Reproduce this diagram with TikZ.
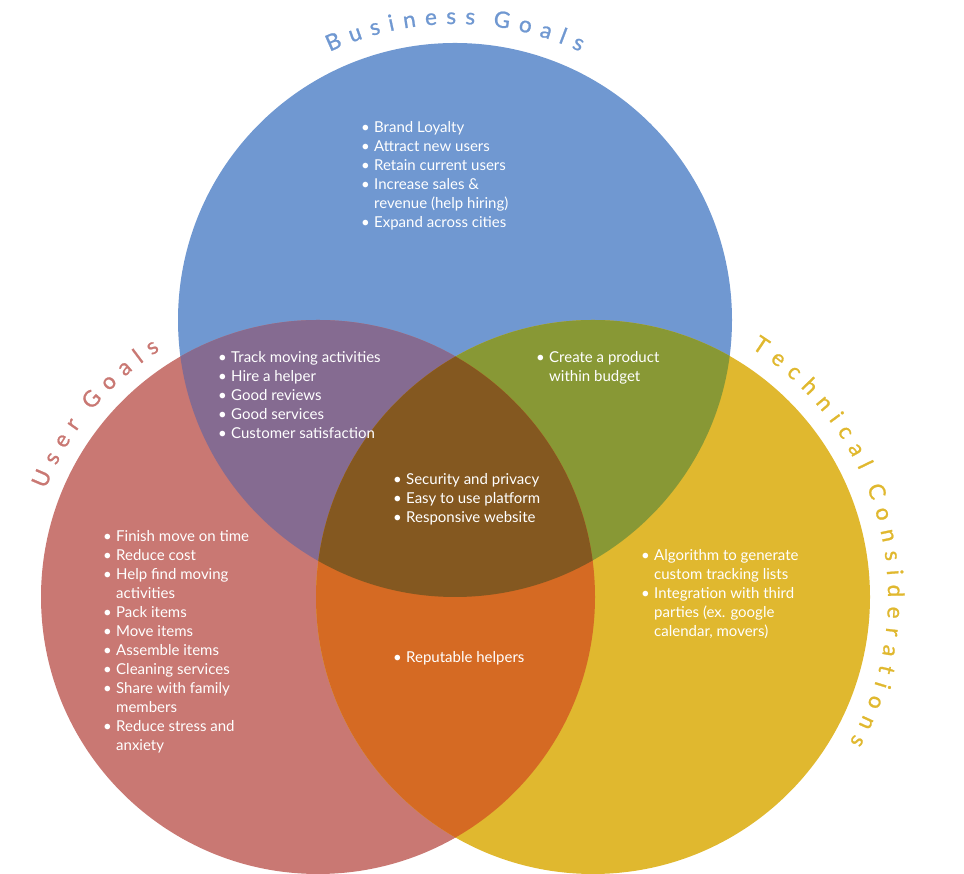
\documentclass[tikz,border=0pt]{standalone}
\usepackage{fontspec}
\setmainfont{Lato}
\newfontfamily\titlefont[FakeBold=1]{Lato}
\definecolor{biz-blue}{HTML}{7098D1}
\definecolor{user-red}{HTML}{C97873}
\definecolor{tech-gold}{HTML}{E0B82F}
\definecolor{mix-purple}{HTML}{856B91}
\definecolor{mix-green}{HTML}{889835}
\definecolor{mix-orange}{HTML}{D56A23}
\definecolor{mix-brown}{HTML}{845820}
\newcommand{\bul}{\makebox[13pt][l]{\textbullet}}
\newcommand{\nob}{\hspace*{13pt}}
\newcommand{\titlesize}{\titlefont\fontsize{22.5}{26}\selectfont}
\newlength{\glyphw}
\newcommand{\measureglyph}[1]{%
  \pgfinterruptpicture
    \settowidth{\glyphw}{\normalfont\titlesize #1}\global\glyphw=\glyphw
  \endpgfinterruptpicture}
% letters set one by one round an arc: centre, radius, middle angle, colour, letters, tracking
\newcommand{\arctitle}[6]{%
  \xdef\arctrack{#6}%
  \xdef\arcrad{#2}%
  \xdef\arcsum{0}%
  \foreach \ch in {#5}{%
    \measureglyph{\ch}%
    \pgfmathparse{\arcsum+\glyphw/1pt+\arctrack}%
    \xdef\arcsum{\pgfmathresult}}%
  \pgfmathparse{#3+(\arcsum-\arctrack)/2/\arcrad*180/pi}%
  \xdef\arcstart{\pgfmathresult}%
  \xdef\arcpos{0}%
  \foreach \ch in {#5}{%
    \measureglyph{\ch}%
    \pgfmathparse{\arcstart-(\arcpos+\glyphw/2pt)/\arcrad*180/pi}%
    \let\arcang\pgfmathresult
    \path (#1) ++(\arcang:\arcrad) node[titlechar, text=#4, rotate=\arcang-90] {\ch};
    \pgfmathparse{\arcpos+\glyphw/1pt+\arctrack}%
    \xdef\arcpos{\pgfmathresult}}%
}

\begin{document}
\begin{tikzpicture}[x=1pt, y=1pt]

  % Global Style Definitions
  \tikzset{
    goals/.style={anchor=base west, inner sep=0pt, text=white, font=\fontsize{15}{19}\selectfont},
    titlechar/.style={anchor=base, inner sep=0pt, font=\titlesize}
  }

  \useasboundingbox (0,0) rectangle (964,874);

  % Circle centres
  \coordinate (bc) at (455,554);
  \coordinate (uc) at (318,277);
  \coordinate (tc) at (593,277);

  % Plain circles
  \fill[biz-blue] (bc) circle[radius=277];
  \fill[user-red] (uc) circle[radius=277];
  \fill[tech-gold] (tc) circle[radius=277];

  % Overlaps
  \begin{scope}
    \clip (bc) circle[radius=277];
    \fill[mix-purple] (uc) circle[radius=277];
    \fill[mix-green] (tc) circle[radius=277];
  \end{scope}
  \begin{scope}
    \clip (uc) circle[radius=277];
    \fill[mix-orange] (tc) circle[radius=277];
  \end{scope}
  \begin{scope}
    \clip (bc) circle[radius=277];
    \clip (uc) circle[radius=277];
    \fill[mix-brown] (tc) circle[radius=277];
  \end{scope}

  % Curved titles
  \arctitle{bc}{296}{90}{biz-blue}{B,u,s,i,n,e,s,s,{},G,o,a,l,s}{9.0}
  \arctitle{uc}{293}{140.5}{user-red}{U,s,e,r,{},G,o,a,l,s}{9.0}
  \arctitle{tc}{295}{14}{tech-gold}{T,e,c,h,n,i,c,a,l,{},C,o,n,s,i,d,e,r,a,t,i,o,n,s}{9.0}

  % Lists
  \node (biz) [goals] at (361,741) {\begin{tabular}[t]{@{}l@{}}
    \bul Brand Loyalty\\
    \bul Attract new users\\
    \bul Retain current users\\
    \bul Increase sales \&\\
    \nob revenue (help hiring)\\
    \bul Expand across cities
  \end{tabular}};

  \node (bizuser) [goals] at (218,511) {\begin{tabular}[t]{@{}l@{}}
    \bul Track moving activities\\
    \bul Hire a helper\\
    \bul Good reviews\\
    \bul Good services\\
    \bul Customer satisfaction
  \end{tabular}};

  \node (biztech) [goals] at (536,511) {\begin{tabular}[t]{@{}l@{}}
    \bul Create a product\\
    \nob within budget
  \end{tabular}};

  \node (all) [goals] at (393,389) {\begin{tabular}[t]{@{}l@{}}
    \bul Security and privacy\\
    \bul Easy to use platform\\
    \bul Responsive website
  \end{tabular}};

  \node (user) [goals] at (103,332) {\begin{tabular}[t]{@{}l@{}}
    \bul Finish move on time\\
    \bul Reduce cost\\
    \bul Help find moving\\
    \nob activities\\
    \bul Pack items\\
    \bul Move items\\
    \bul Assemble items\\
    \bul Cleaning services\\
    \bul Share with family\\
    \nob members\\
    \bul Reduce stress and\\
    \nob anxiety
  \end{tabular}};

  \node (tech) [goals] at (641,313) {\begin{tabular}[t]{@{}l@{}}
    \bul Algorithm to generate\\
    \nob custom tracking lists\\
    \bul Integration with third\\
    \nob parties (ex. google\\
    \nob calendar, movers)
  \end{tabular}};

  \node (usertech) [goals] at (393,211) {\begin{tabular}[t]{@{}l@{}}
    \bul Reputable helpers
  \end{tabular}};

\end{tikzpicture}
\end{document}
